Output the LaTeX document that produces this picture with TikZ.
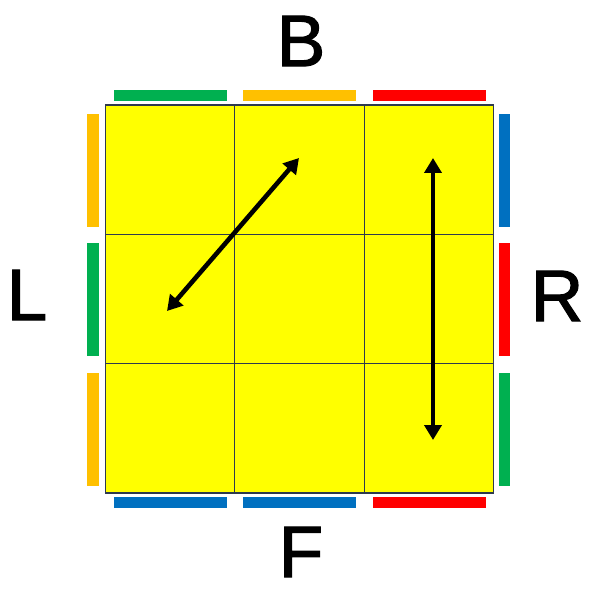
\documentclass[tikz,border=0pt]{standalone}
\usepackage{fontspec}
\setmainfont{Liberation Sans}
\newfontfamily\labfont{Liberation Sans}[FakeBold=1.6]
\usetikzlibrary{arrows.meta}
\definecolor{cyel}{HTML}{FFFF00}
\definecolor{cgrn}{HTML}{00B050}
\definecolor{corg}{HTML}{FFC000}
\definecolor{cred}{HTML}{FF0000}
\definecolor{cblu}{HTML}{0070C0}
\definecolor{cgrid}{HTML}{2E3A4E}
\tikzset{
  gridline/.style={draw=cgrid, line width=1.2pt},
  facelabel/.style={font=\labfont\fontsize{73}{73}\selectfont, inner sep=0pt, anchor=center},
  turn/.style={line width=4.6pt, {Triangle[width=17pt,length=15pt]}-{Triangle[width=17pt,length=15pt]}}
}
\begin{document}
\begin{tikzpicture}[x=1pt,y=-1pt]
\useasboundingbox (0,0) rectangle (601,601);
% face
\fill[cyel] (105.5,105) rectangle (493.5,493);
\foreach \i in {1,2}{
  \draw[gridline] ({105.5+129.33*\i},105) -- ({105.5+129.33*\i},493);
  \draw[gridline] (105.5,{105+129.33*\i}) -- (493.5,{105+129.33*\i});
}
\draw[gridline] (105.5,105) rectangle (493.5,493);
% top bars
\fill[cgrn] (114,90) rectangle (227,101);
\fill[corg] (243,90) rectangle (356,101);
\fill[cred] (373,90) rectangle (486,101);
% bottom bars
\fill[cblu] (114,497) rectangle (227,508);
\fill[cblu] (243,497) rectangle (356,508);
\fill[cred] (373,497) rectangle (486,508);
% left bars
\fill[corg] (87,114) rectangle (99,227);
\fill[cgrn] (87,243) rectangle (99,356);
\fill[corg] (87,373) rectangle (99,486);
% right bars
\fill[cblu] (499,114) rectangle (510,227);
\fill[cred] (499,243) rectangle (510,356);
\fill[cgrn] (499,373) rectangle (510,486);
% labels
\node[facelabel] (lB) at (301,41) {B};
\node[facelabel] (lL) at (27,295) {L};
\node[facelabel] (lR) at (557,296) {R};
\node[facelabel] (lF) at (301,552) {F};
% arrows
\coordinate (d1) at (167,311);
\coordinate (d2) at (299,158);
\coordinate (v1) at (433,158);
\coordinate (v2) at (433,440);
\draw[turn] (d1) -- (d2);
\draw[turn] (v1) -- (v2);
\end{tikzpicture}
\end{document}
